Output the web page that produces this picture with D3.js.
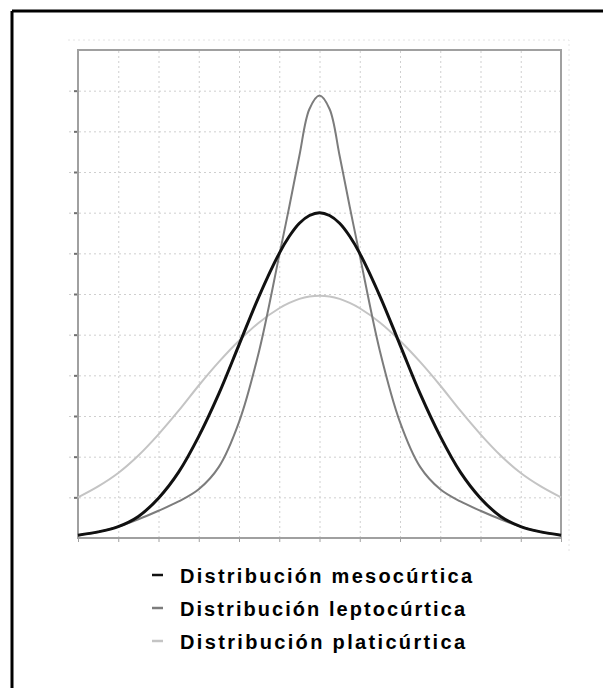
<!DOCTYPE html>
<html>
<head>
<meta charset="utf-8">
<script src="https://cdn.jsdelivr.net/npm/d3@7"></script>
<style>
  body { margin: 0; background: #fff; }
  svg { display: block; }
</style>
</head>
<body>
<svg id="chart" width="603" height="688"></svg>
<script>
// values (x in grid units, y in grid units)
let xValues = [-6, -5.5, -5, -4.5, -4, -3.5, -3, -2.5, -2, -1.5, -1, -0.75, -0.5, -0.25, 0,
               0.25, 0.5, 0.75, 1, 1.5, 2, 2.5, 3, 3.5, 4, 4.5, 5, 5.5, 6];
let mesoValues = [0.07, 0.15, 0.28, 0.53, 0.98, 1.62, 2.5, 3.55, 4.75, 5.95, 7.0, 7.42, 7.74, 7.93, 8.0,
                  7.93, 7.74, 7.42, 7.0, 5.95, 4.75, 3.55, 2.5, 1.62, 0.98, 0.53, 0.28, 0.15, 0.07];
let leptoValues = [0.07, 0.15, 0.28, 0.46, 0.67, 0.9, 1.2, 1.75, 2.85, 4.6, 6.95, 8.15, 9.4, 10.55, 10.88,
                   10.55, 9.4, 8.15, 6.95, 4.6, 2.85, 1.75, 1.2, 0.9, 0.67, 0.46, 0.28, 0.15, 0.07];
let platiValues = [1.0, 1.27, 1.6, 2.03, 2.55, 3.13, 3.75, 4.33, 4.85, 5.3, 5.65, 5.78, 5.88, 5.94, 5.96,
                   5.94, 5.88, 5.78, 5.65, 5.3, 4.85, 4.33, 3.75, 3.13, 2.55, 2.03, 1.6, 1.27, 1.0];
let legendLabels = ["Distribución mesocúrtica", "Distribución leptocúrtica", "Distribución platicúrtica"];
let xTicks = d3.range(-6, 7);
let yTicks = d3.range(0, 13);

let svg = d3.select("#chart");

// outer frame (only left and top visible in picture)
svg.append("line").attr("x1", 12).attr("y1", 11).attr("x2", 603).attr("y2", 11)
    .attr("stroke", "#000").attr("stroke-width", 3);
svg.append("line").attr("x1", 12).attr("y1", 11).attr("x2", 12).attr("y2", 688)
    .attr("stroke", "#000").attr("stroke-width", 3);

let plotLeft = 78, plotRight = 561, plotTop = 50, plotBottom = 538;

let x = d3.scaleLinear().domain([-6, 6]).range([plotLeft, plotRight]);
let y = d3.scaleLinear().domain([0, 12]).range([plotBottom, plotTop]);

// faint back-wall lines
svg.append("path")
    .attr("d", `M${plotLeft - 10},${plotTop - 10}H${plotRight + 8}V${plotBottom + 14}`)
    .attr("fill", "none").attr("stroke", "#e4e4e4").attr("stroke-width", 1)
    .attr("stroke-dasharray", "2,3");

// grid
svg.append("g")
    .attr("transform", `translate(0,${plotBottom})`)
    .call(d3.axisBottom(x).tickValues(xTicks.slice(1, -1)).tickSize(-(plotBottom - plotTop)).tickFormat(""))
    .call(g => g.select(".domain").remove())
    .call(g => g.selectAll("line").attr("stroke", "#cfcfcf").attr("stroke-dasharray", "2,3"));

svg.append("g")
    .attr("transform", `translate(${plotRight},0)`)
    .call(d3.axisLeft(y).tickValues(yTicks.slice(1, -1)).tickSize(plotRight - plotLeft + 10).tickFormat(""))
    .call(g => g.select(".domain").remove())
    .call(g => g.selectAll("line").attr("stroke", "#cfcfcf").attr("stroke-dasharray", "2,3"));

// tick marks
svg.append("g")
    .attr("transform", `translate(0,${plotBottom})`)
    .call(d3.axisBottom(x).tickValues(xTicks).tickSize(4).tickFormat(""))
    .call(g => g.select(".domain").remove())
    .call(g => g.selectAll("line").attr("stroke", "#a0a0a0"));

svg.append("g")
    .attr("transform", `translate(${plotLeft},0)`)
    .call(d3.axisLeft(y).tickValues(yTicks.slice(1, -1)).tickSize(4).tickFormat(""))
    .call(g => g.select(".domain").remove())
    .call(g => g.selectAll("line").attr("stroke", "#707070").attr("stroke-width", 2));

// plot frame
svg.append("rect")
    .attr("x", plotLeft).attr("y", plotTop)
    .attr("width", plotRight - plotLeft).attr("height", plotBottom - plotTop)
    .attr("fill", "none").attr("stroke", "#a0a0a0").attr("stroke-width", 2);

let line = d3.line()
    .x(d => x(d[0]))
    .y(d => y(d[1]))
    .curve(d3.curveCatmullRom.alpha(0.5));

let series = [
    {values: platiValues, color: "#c4c4c4", width: 2},
    {values: leptoValues, color: "#7c7c7c", width: 2},
    {values: mesoValues, color: "#111", width: 3}
];

series.forEach(s => {
    svg.append("path")
        .datum(xValues.map((v, i) => [v, s.values[i]]))
        .attr("d", line)
        .attr("fill", "none")
        .attr("stroke", s.color)
        .attr("stroke-width", s.width)
        .attr("stroke-linejoin", "round");
});

// legend
let legendColors = ["#111", "#7c7c7c", "#c4c4c4"];
let legendWidths = [292, 285, 285];
let legend = svg.append("g");
legendLabels.forEach((label, i) => {
    let by = 583 + i * 33;
    legend.append("line")
        .attr("x1", 152).attr("x2", 163)
        .attr("y1", by - 8).attr("y2", by - 8)
        .attr("stroke", legendColors[i]).attr("stroke-width", 2.5);
    legend.append("text")
        .attr("x", 180).attr("y", by)
        .attr("font-family", "'Liberation Sans', Arial, sans-serif")
        .attr("font-weight", "bold")
        .attr("font-size", 20)
        .attr("textLength", legendWidths[i])
        .attr("lengthAdjust", "spacing")
        .attr("fill", "#000")
        .text(label);
});
</script>
</body>
</html>
